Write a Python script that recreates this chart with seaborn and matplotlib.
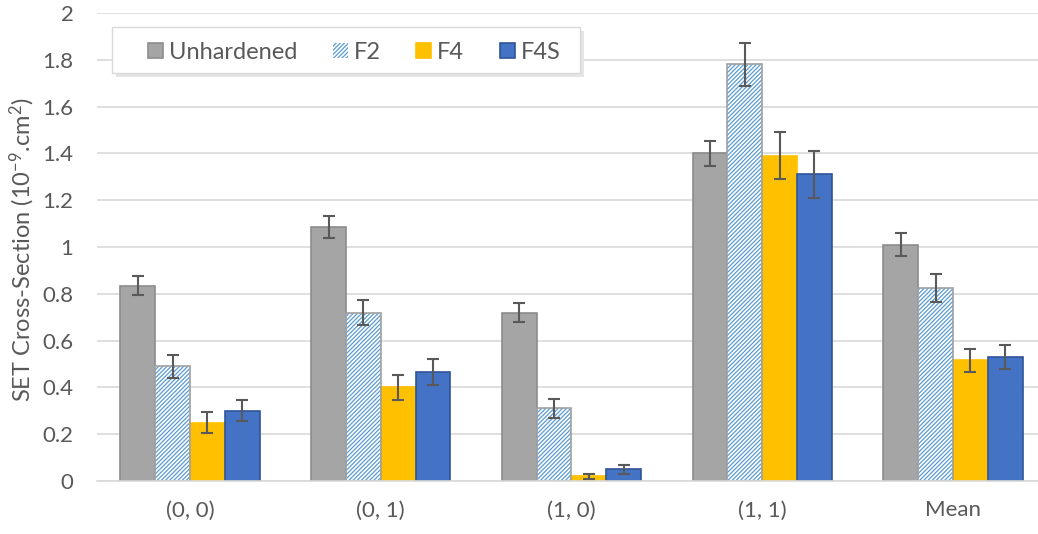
import numpy as np
import pandas as pd
import matplotlib
matplotlib.use("Agg")
import matplotlib.pyplot as plt
from matplotlib.patches import Patch, Rectangle
import seaborn as sns

# data
categories = ['(0, 0)', '(0, 1)', '(1, 0)', '(1, 1)', 'Mean']
series = ['Unhardened', 'F2', 'F4', 'F4S']
unhardened = [0.835, 1.085, 0.72, 1.40, 1.01]
f2 = [0.49, 0.72, 0.31, 1.78, 0.825]
f4 = [0.25, 0.40, 0.02, 1.39, 0.515]
f4s = [0.30, 0.465, 0.05, 1.31, 0.53]
unhardened_err = [0.042, 0.048, 0.04, 0.055, 0.048]
f2_err = [0.048, 0.055, 0.04, 0.09, 0.06]
f4_err = [0.045, 0.055, 0.012, 0.10, 0.05]
f4s_err = [0.045, 0.055, 0.02, 0.10, 0.05]

values = [unhardened, f2, f4, f4s]
errors = [unhardened_err, f2_err, f4_err, f4s_err]
rows = []
for s, vals in zip(series, values):
    for c, v in zip(categories, vals):
        rows.append({'Category': c, 'Series': s, 'Value': v})
df = pd.DataFrame(rows)

fills = ['#A5A5A5', '#FFFFFF', '#FFC000', '#4472C4']
edges = ['#8C8C8C', '#A0A0A0', '#FFC000', '#2F5597']
hatch_color = '#5B9BD5'
text_color = '#595959'
grid_color = '#D9D9D9'

sns.set_style('white')
plt.rcParams['font.family'] = ['Lato', 'DejaVu Sans']
plt.rcParams['mathtext.fontset'] = 'custom'
plt.rcParams['mathtext.rm'] = 'Lato'
plt.rcParams['mathtext.default'] = 'regular'
plt.rcParams['hatch.linewidth'] = 0.9

fig = plt.figure(figsize=(10.38, 5.34), dpi=100)
ax = fig.add_axes([97 / 1038, 53 / 534, 941 / 1038, 468 / 534])

sns.barplot(data=df, x='Category', y='Value', hue='Series', order=categories,
            hue_order=series, palette=fills, saturation=1, width=0.73, gap=0,
            errorbar=None, legend=False, ax=ax, zorder=2)

bar_containers = list(ax.containers)
for i, cont in enumerate(bar_containers):
    xs = []
    ys = []
    for p in cont.patches:
        xs.append(p.get_x() + p.get_width() / 2)
        ys.append(p.get_height())
        if series[i] == 'F2':
            p.set_edgecolor(hatch_color)
            p.set_hatch('////////')
            p.set_linewidth(0)
            ax.add_patch(Rectangle((p.get_x(), 0), p.get_width(), p.get_height(),
                                   fill=False, edgecolor=edges[i], linewidth=1.2, zorder=2.5))
        else:
            p.set_edgecolor(edges[i])
            p.set_linewidth(1.2)
    ax.errorbar(xs, ys, yerr=errors[i], fmt='none', ecolor=text_color,
                elinewidth=1.5, capsize=4.5, capthick=1.5, zorder=3)

ax.set_ylim(0, 2)
ax.set_xlim(-0.4876, 4.446)
ax.set_yticks(np.arange(0, 2.01, 0.2))
ax.set_yticklabels(['0', '0.2', '0.4', '0.6', '0.8', '1', '1.2', '1.4', '1.6', '1.8', '2'])
ax.yaxis.grid(True, color=grid_color, linewidth=1.2, zorder=0)
ax.set_axisbelow(True)
for side in ['top', 'right', 'left']:
    ax.spines[side].set_visible(False)
ax.spines['bottom'].set_color(grid_color)
ax.spines['bottom'].set_linewidth(1.2)
ax.tick_params(axis='both', length=0, labelsize=16, labelcolor=text_color)
ax.tick_params(axis='y', pad=17)
ax.tick_params(axis='x', pad=14)
ax.set_xlabel('')
ax.set_ylabel('')
fig.text(22 / 1038, 1 - 250 / 534, 'SET Cross-Section (10$^{-9}$.cm$^2$)',
         rotation=90, ha='center', va='center', fontsize=17, color=text_color)

# legend box with a soft shadow, drawn behind a frameless legend
ax.add_patch(Rectangle((0.0159 + 0.004, 0.8718 - 0.009), 0.4973, 0.0983,
                       transform=ax.transAxes, facecolor='#E4E4E4', edgecolor='none',
                       zorder=4))
ax.add_patch(Rectangle((0.0159, 0.8718), 0.4973, 0.0983, transform=ax.transAxes,
                       facecolor='white', edgecolor=grid_color, linewidth=1, zorder=5))

handles = []
for i, s in enumerate(series):
    if s == 'F2':
        handles.append(Patch(facecolor='white', edgecolor=hatch_color, hatch='////////', linewidth=0))
    else:
        handles.append(Patch(facecolor=fills[i], edgecolor=edges[i], linewidth=1.2))
leg = ax.legend(handles, series, loc='center left', bbox_to_anchor=(0.0542, 0.916),
                ncol=4, frameon=False, fontsize=17,
                handlelength=0.64, handleheight=0.64, handletextpad=0.25,
                columnspacing=1.5, borderpad=0, borderaxespad=0)
leg.set_zorder(6)
for t in leg.get_texts():
    t.set_color(text_color)

fig.savefig('out.png', dpi=100)
